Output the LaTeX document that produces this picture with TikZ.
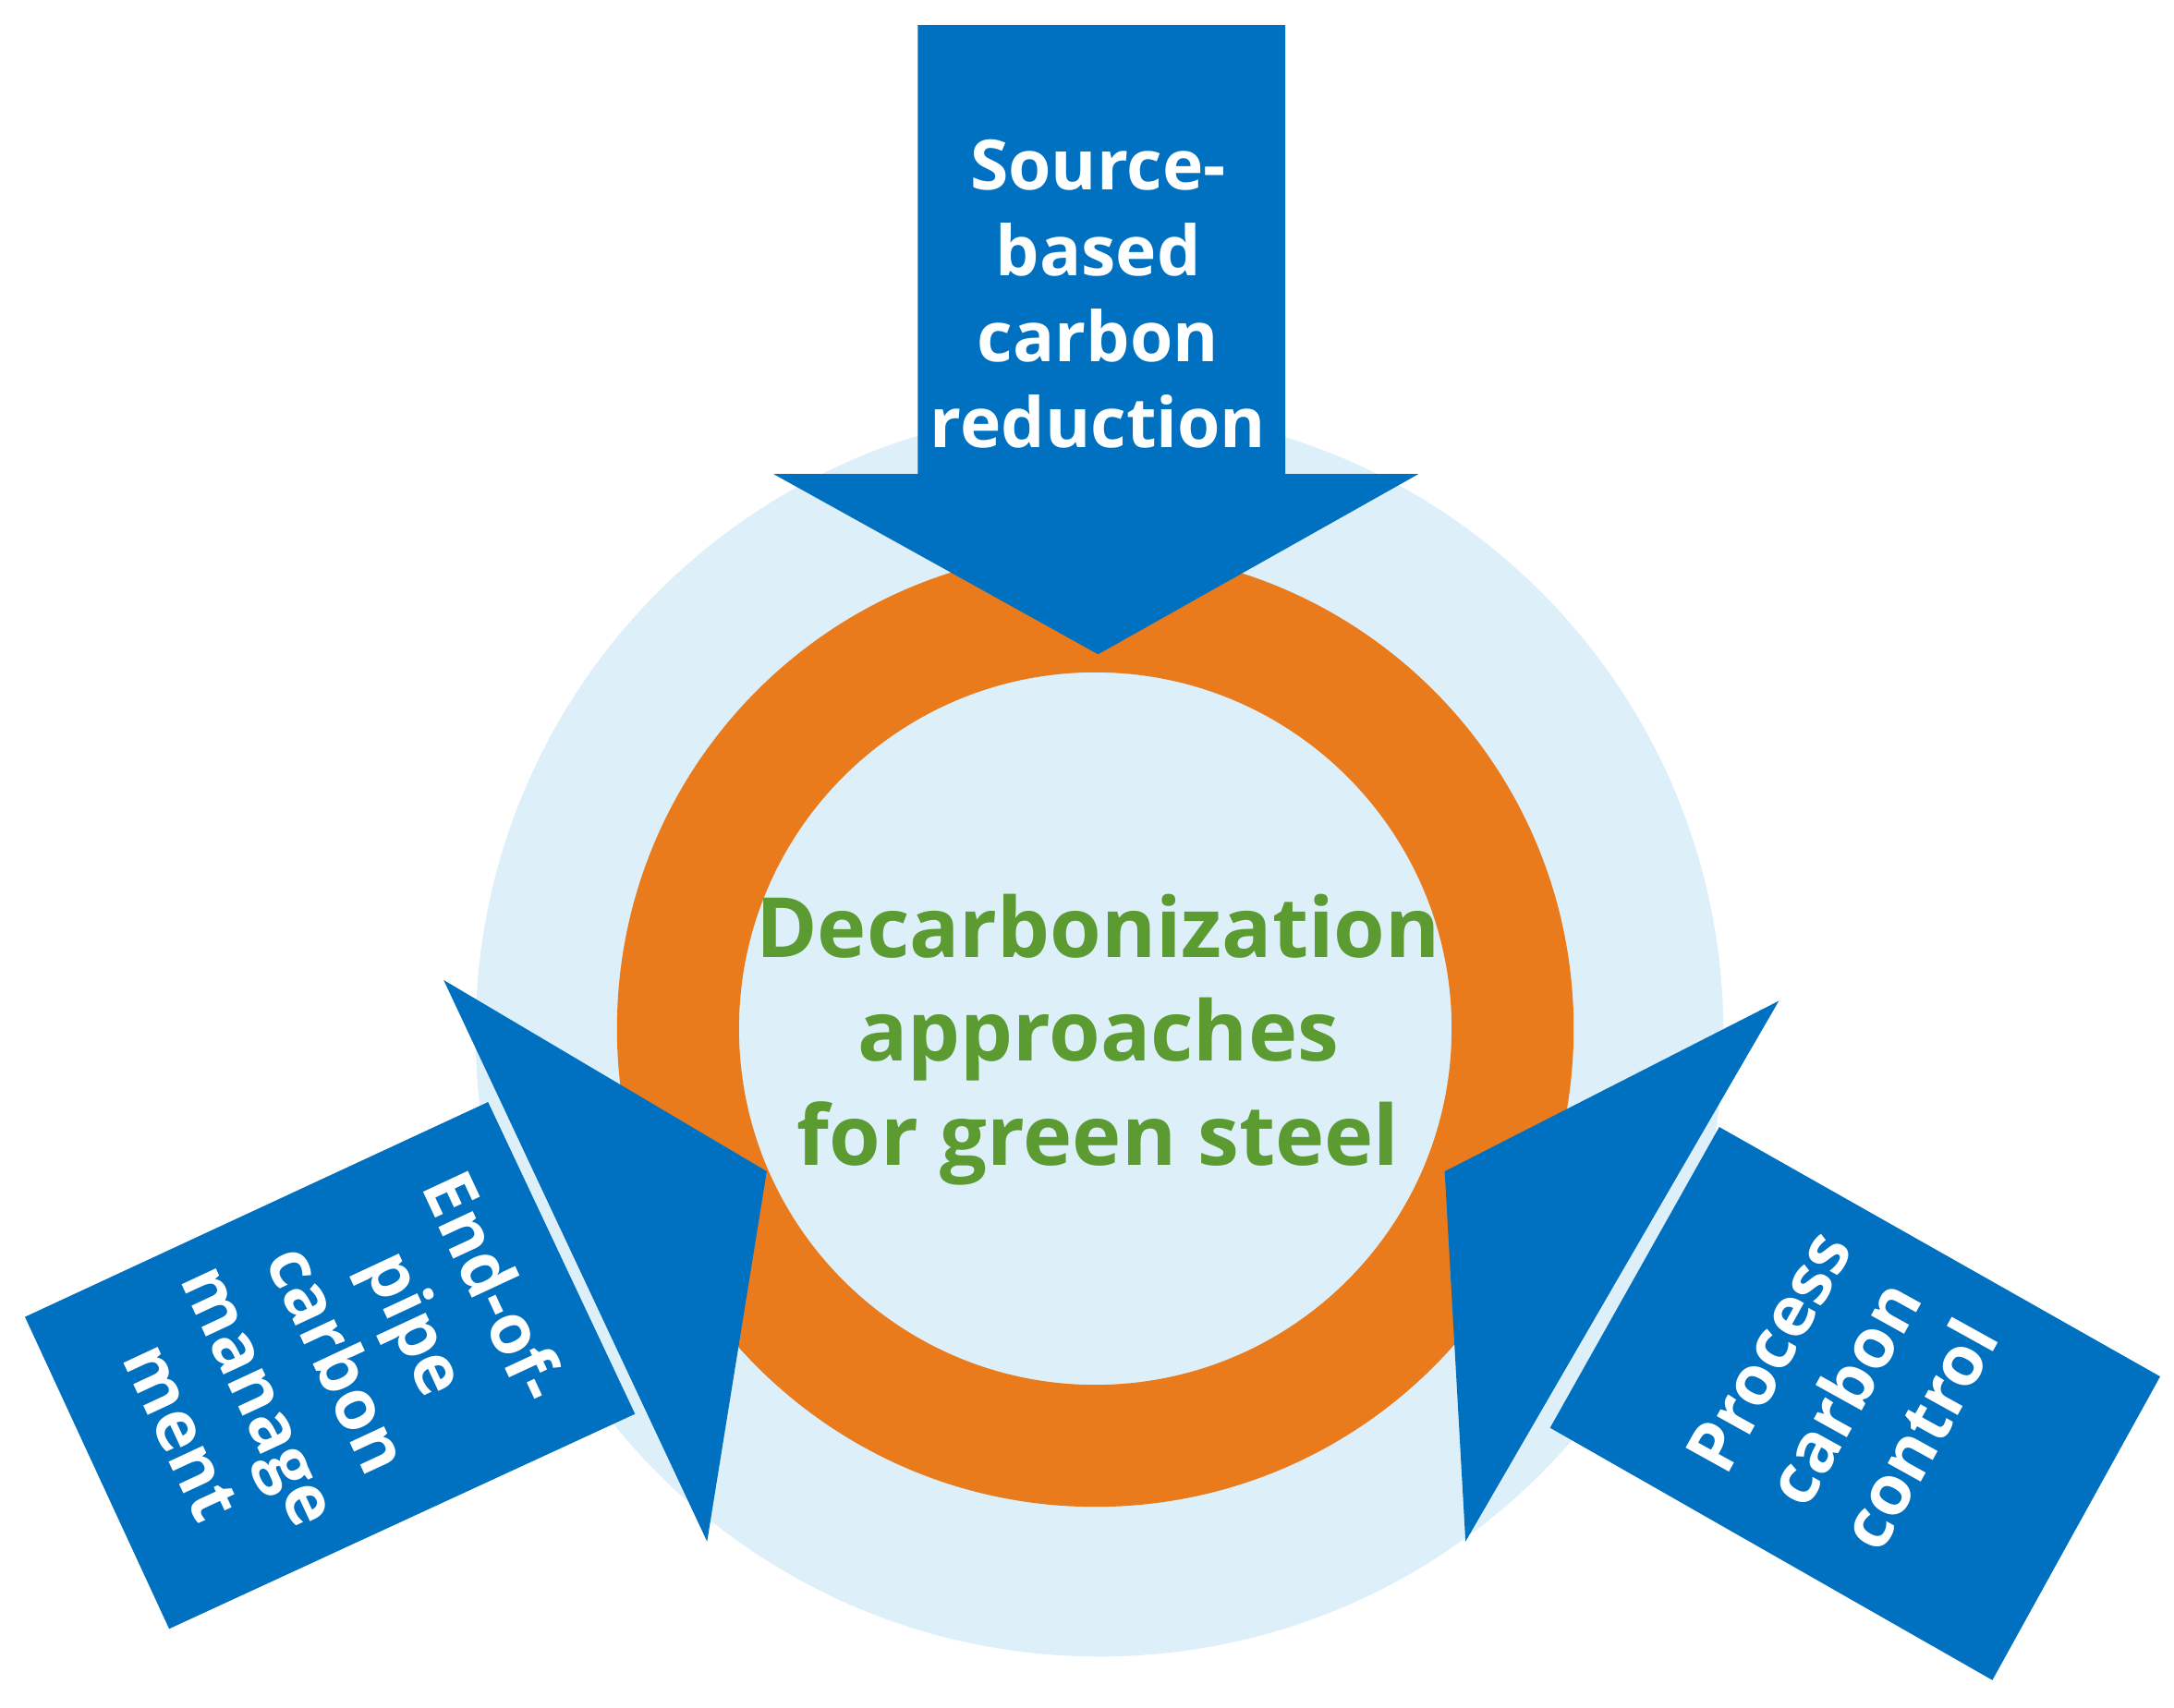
\documentclass[tikz,border=0pt]{standalone}
\usepackage{fontspec}
\setmainfont{Open Sans}
\definecolor{ablue}{HTML}{0070C0}
\definecolor{aorange}{HTML}{E97B1C}
\definecolor{alight}{HTML}{DDEFF8}
\definecolor{agreen}{HTML}{5B9B32}
\begin{document}
\begin{tikzpicture}[x=1pt,y=-1pt,
  arr/.style={fill=ablue,draw=none},
  lbl/.style={text=white,font=\fontsize{50}{62}\selectfont\bfseries,align=center,inner sep=0pt}]
\useasboundingbox (0,0) rectangle (1568,1232);
\fill[alight] (793,745) circle (450);
\fill[aorange,even odd rule] (790,742) circle (345) (790,742) circle (257);
\node[text=agreen,font=\fontsize{60}{75}\selectfont\bfseries,align=center,inner sep=0pt] (c) at (792,750) {Decarbonization\\approaches\\for green steel};
% top arrow
\fill[arr] (662,18) -- (927,18) -- (927,342) -- (1023,342) -- (792,472) -- (558,342) -- (662,342) -- cycle;
\node[lbl] (t) at (792,212) {Source-\\based\\carbon\\reduction};
% left arrow
\fill[arr] (320,707) -- (553,845) -- (510,1112) -- cycle;
\fill[arr] (18,950) -- (352,795) -- (458,1020) -- (122,1175) -- cycle;
\node[lbl,rotate=-65] (l) at (245,980) {End-of-\\pipe\\carbon\\manage\\ment};
% right arrow
\fill[arr] (1283,722) -- (1042,845) -- (1057,1112) -- cycle;
\fill[arr] (1240,813) -- (1558,993) -- (1437,1212) -- (1118,1030) -- cycle;
\node[lbl,rotate=61] (r) at (1330,1005) {Process\\carbon\\control};
\end{tikzpicture}
\end{document}
